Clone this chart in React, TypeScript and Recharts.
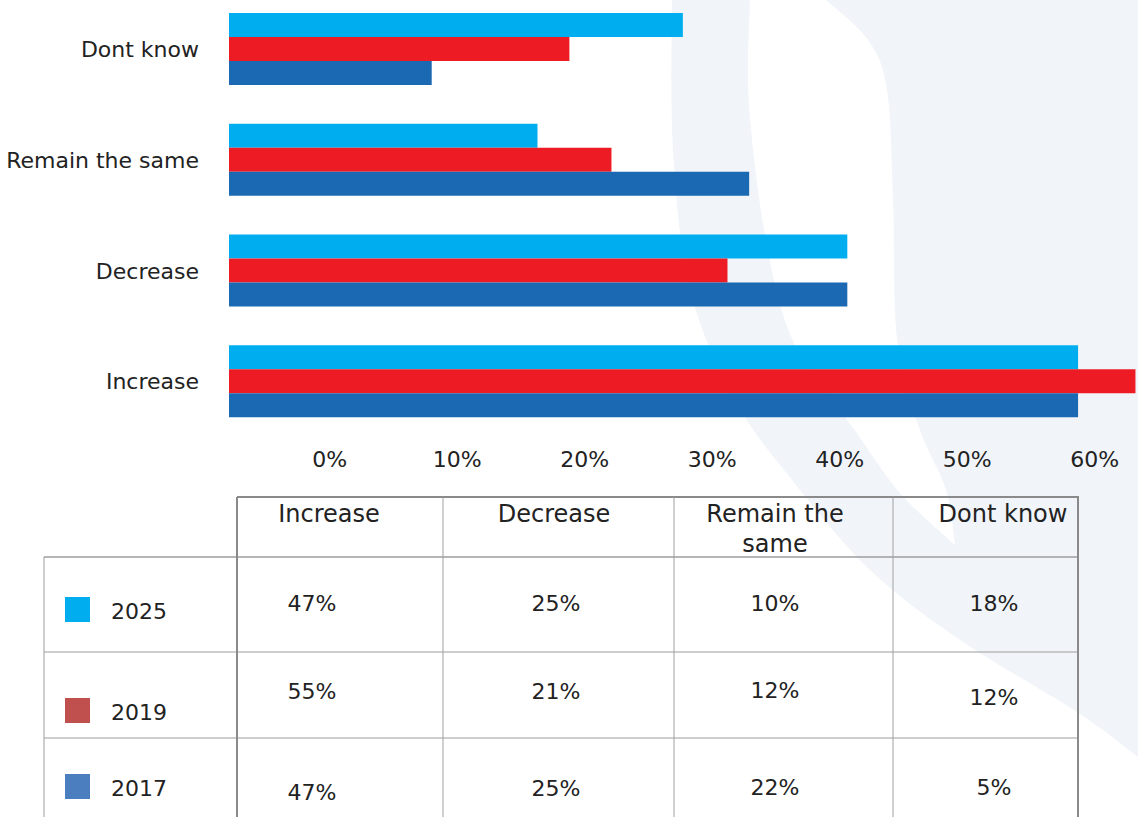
import React from 'react';
import { BarChart, Bar, XAxis, YAxis } from 'recharts';

// ---------- data ----------
const categories = ['Dont know', 'Remain the same', 'Decrease', 'Increase'];
// bar ends as read against the drawn percentage axis
const bars2025 = [27.7, 16.3, 40.6, 58.7];
const bars2019 = [18.8, 22.1, 31.2, 63.2];
const bars2017 = [8.0, 32.9, 40.6, 58.7];
// in the original the bars start to the left of the 0% label
const barOrigin = -7.9;
const xTicks = [0, 10, 20, 30, 40, 50, 60];

const tableColumns = ['Increase', 'Decrease', 'Remain the same', 'Dont know'];
const tableYears = ['2025', '2019', '2017'];
const table2025 = [47, 25, 10, 18];
const table2019 = [55, 21, 12, 12];
const table2017 = [47, 25, 22, 5];

// ---------- styles ----------
const C2025 = '#00AEEF';
const C2019 = '#ED1C24';
const C2017 = '#1A69B2';
const legendColors = ['#00AEEF', '#C0504D', '#4A7EBE'];
const FONT = '"DejaVu Sans", sans-serif';
const TEXT = '#222222';

const chartData = categories.map((c, i) => ({
  category: c,
  y2025: [barOrigin, bars2025[i]],
  y2019: [barOrigin, bars2019[i]],
  y2017: [barOrigin, bars2017[i]],
}));

const tableRows = [table2025, table2019, table2017];

// table layout
const colX = [237, 443, 674, 893, 1078];
const rowY = [557, 652, 738, 830];
const headerTop = 497;
const labelLeft = 44;
const headerCenters = [329, 554, 775, 1003];
const valueCenters = [312, 556, 775, 994];
const valueBaselines = [
  [611, 611, 611, 611],
  [699, 699, 698, 705],
  [800, 796, 795, 795],
];
const labelBaselines = [619, 720, 796];
const squareTops = [597, 698, 774];

function smooth(pts: number[][], move = true): string {
  let d = `${move ? 'M' : 'L'}${pts[0][0]},${pts[0][1]}`;
  for (let i = 0; i < pts.length - 1; i++) {
    const p0 = pts[i - 1] || pts[i];
    const p1 = pts[i];
    const p2 = pts[i + 1];
    const p3 = pts[i + 2] || p2;
    const c1 = [p1[0] + (p2[0] - p0[0]) / 6, p1[1] + (p2[1] - p0[1]) / 6];
    const c2 = [p2[0] - (p3[0] - p1[0]) / 6, p2[1] - (p3[1] - p1[1]) / 6];
    d += ` C${c1[0]},${c1[1]} ${c2[0]},${c2[1]} ${p2[0]},${p2[1]}`;
  }
  return d;
}

const outerEdge = [
  [672, 0], [673, 150], [690, 290], [735, 400], [792, 480], [870, 570], [960, 640], [1077, 712], [1138, 757],
];
const rightEdge = [
  [826, 0], [868, 40], [887, 90], [893, 200], [897, 340], [918, 425], [946, 490], [955, 545],
];
const innerEdge = [
  [955, 545], [900, 493], [854, 429], [794, 343], [766, 240], [749, 103], [750, 0],
];

const watermarkPath =
  smooth(outerEdge) + ' L1138,0 L826,0 ' + smooth(rightEdge, false).slice(0) + ' ' + smooth(innerEdge, false) + ' Z';

function headerLines(label: string): string[] {
  if (label.length > 12) {
    const idx = label.lastIndexOf(' ');
    return [label.slice(0, idx), label.slice(idx + 1)];
  }
  return [label];
}

export default function App() {
  return (
    <div
      style={{
        position: 'absolute',
        left: 0,
        top: 0,
        width: 1138,
        height: 817,
        overflow: 'hidden',
        background: '#ffffff',
        fontFamily: FONT,
      }}
    >
      <svg width={1138} height={817} style={{ position: 'absolute', left: 0, top: 0 }}>
        <path d={watermarkPath} fill="#F1F5F9" />
      </svg>

      <div style={{ position: 'absolute', left: 0, top: 0 }}>
        <BarChart
          width={1138}
          height={480}
          data={chartData}
          layout="vertical"
          margin={{ top: -6, right: 0, bottom: 0, left: 0 }}
          barGap={0}
          barSize={24}
        >
          <XAxis
            type="number"
            domain={[barOrigin, 63.4]}
            ticks={xTicks}
            allowDataOverflow
            interval={0}
            tickFormatter={(v: number) => `${v}%`}
            axisLine={false}
            tickLine={false}
            tickSize={0}
            tickMargin={14}
            height={43}
            tick={{ fill: TEXT, fontSize: 22, fontFamily: FONT }}
          />
          <YAxis
            type="category"
            dataKey="category"
            width={229}
            axisLine={false}
            tickLine={false}
            tickSize={0}
            tickMargin={30}
            interval={0}
            tick={{ fill: TEXT, fontSize: 22, fontFamily: FONT }}
          />
          <Bar dataKey="y2025" name="2025" fill={C2025} isAnimationActive={false} />
          <Bar dataKey="y2019" name="2019" fill={C2019} isAnimationActive={false} />
          <Bar dataKey="y2017" name="2017" fill={C2017} isAnimationActive={false} />
        </BarChart>
      </div>

      <svg width={1138} height={817} style={{ position: 'absolute', left: 0, top: 0 }}>
        {/* horizontal body lines */}
        {rowY.slice(0, 3).map((y, i) => (
          <line key={`h${i}`} x1={labelLeft} x2={colX[4]} y1={y} y2={y} stroke="#9C9C9C" strokeWidth={i === 0 ? 1.5 : 1} />
        ))}
        {/* header top */}
        <line x1={colX[0]} x2={colX[4] + 1} y1={headerTop} y2={headerTop} stroke="#8A8A8A" strokeWidth={2} />
        {/* left border of label column */}
        <line x1={labelLeft} x2={labelLeft} y1={rowY[0]} y2={817} stroke="#9C9C9C" strokeWidth={1} />
        {/* column lines */}
        {colX.map((x, i) => (
          <line
            key={`v${i}`}
            x1={x}
            x2={x}
            y1={headerTop}
            y2={817}
            stroke={i === 0 || i === 4 ? '#8A8A8A' : '#A0A0A0'}
            strokeWidth={i === 0 || i === 4 ? 2 : 1}
          />
        ))}
        {/* headers */}
        {tableColumns.map((h, i) =>
          headerLines(h).map((ln, j) => (
            <text
              key={`hd${i}-${j}`}
              x={headerCenters[i]}
              y={522 + j * 30}
              textAnchor="middle"
              fontSize={24}
              fill={TEXT}
              fontFamily={FONT}
            >
              {ln}
            </text>
          ))
        )}
        {/* rows */}
        {tableYears.map((yr, r) => (
          <g key={`r${r}`}>
            <rect x={65} y={squareTops[r]} width={25} height={25} fill={legendColors[r]} />
            <text x={111} y={labelBaselines[r]} fontSize={22} fill={TEXT} fontFamily={FONT}>
              {yr}
            </text>
            {tableRows[r].map((v, c) => (
              <text
                key={`c${c}`}
                x={valueCenters[c]}
                y={valueBaselines[r][c]}
                textAnchor="middle"
                fontSize={22}
                fill={TEXT}
                fontFamily={FONT}
              >
                {`${v}%`}
              </text>
            ))}
          </g>
        ))}
      </svg>
    </div>
  );
}
